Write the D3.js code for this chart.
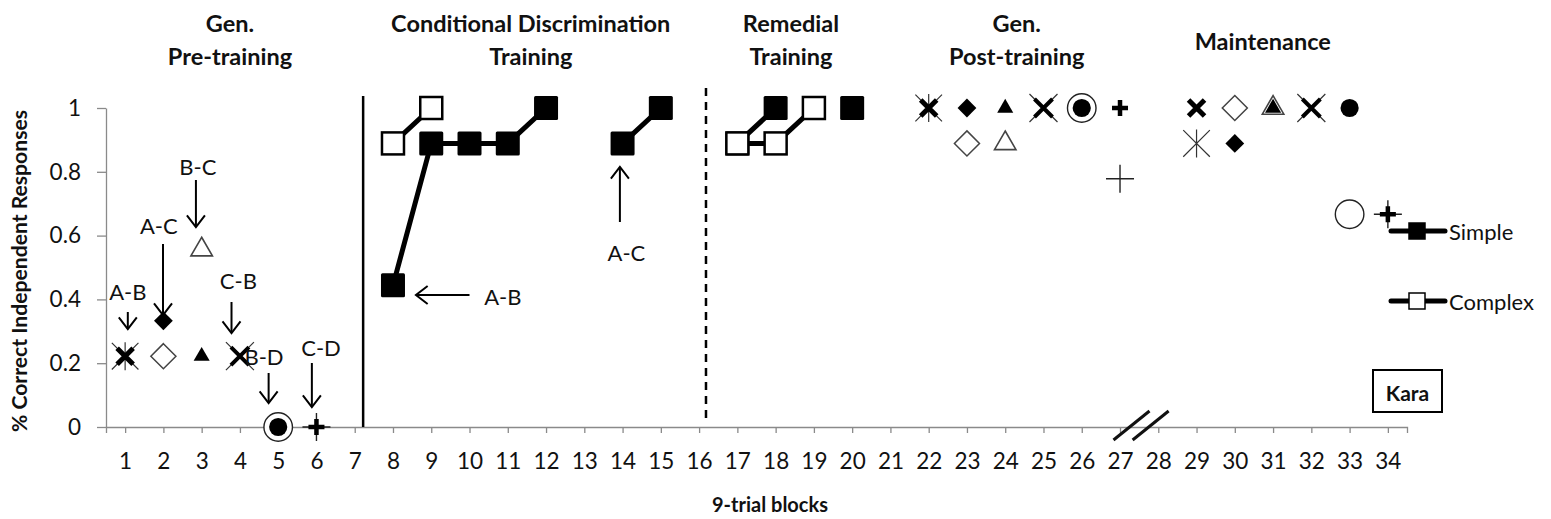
<!DOCTYPE html>
<html>
<head>
<meta charset="utf-8">
<script src="https://cdn.jsdelivr.net/npm/d3@7"></script>
<style>
  body { margin: 0; background: #fff; }
  svg text { font-family: Lato, "Open Sans", sans-serif; fill: #111; }
</style>
</head>
<body>
<svg id="chart" width="1551" height="519"></svg>
<script>
// blocks on the x axis
var blocks = d3.range(1, 35)
var yTicks = [0, 0.2, 0.4, 0.6, 0.8, 1]

// training series (null = gap)
var simpleBlocks  = [8, 9, 10, 11, 12, 13, 14, 15, 16, 17, 18, 19, 20]
var simpleValues  = [0.444, 0.889, 0.889, 0.889, 1, null, 0.889, 1, null, 0.889, 1, null, 1]
var complexBlocks = [8, 9, 10, 16, 17, 18, 19]
var complexValues = [0.889, 1, null, null, 0.889, 0.889, 1]

// generalization probes, one marker pair per relation
var relations   = ["A-B", "A-C", "B-C", "C-B", "B-D", "C-D"]
var preBlocks   = [1, 2, 3, 4, 5, 6]
var postBlocks  = [22, 23, 24, 25, 26, 27]
var maintBlocks = [29, 30, 31, 32, 33, 34]
var preA   = [0.222, 0.333, 0.222, 0.222, 0, 0]
var preB   = [0.222, 0.222, 0.556, 0.222, 0, 0]
var postA  = [1, 1, 1, 1, 1, 1]
var postB  = [1, 0.889, 0.889, 1, 1, 0.778]
var maintA = [1, 0.889, 1, 1, 1, 0.667]
var maintB = [0.889, 1, 1, 1, 0.667, 0.667]

var phases = [
  {lines: ["Gen.", "Pre-training"], at: 3.74},
  {lines: ["Conditional Discrimination", "Training"], at: 11.6},
  {lines: ["Remedial", "Training"], at: 18.4},
  {lines: ["Gen.", "Post-training"], at: 24.3},
  {lines: ["Maintenance"], at: 30.73}
]

var svg = d3.select("#chart")

var x = d3.scaleLinear().domain([0.5, 34.5]).range([106, 1407])
var y = d3.scaleLinear().domain([0, 1]).range([427, 108])

// axes
var xAxis = d3.axisBottom(x).tickValues(blocks).tickSize(6).tickSizeOuter(6)
  .tickPadding(20).tickFormat(d3.format("d"))
var yAxis = d3.axisLeft(y).tickValues(yTicks).tickSize(9).tickSizeOuter(0)
  .tickPadding(16).tickFormat(function(d){ return d === 0 || d === 1 ? d : d3.format(".1f")(d) })

var gx = svg.append("g").attr("transform", "translate(0," + y(0) + ")").call(xAxis)
var gy = svg.append("g").attr("transform", "translate(" + x(0.5) + ",0)").call(yAxis)
;[gx, gy].forEach(function(g){
  g.selectAll("path, line").attr("stroke", "#8a8a8a").attr("stroke-width", 1.3)
  g.selectAll("text").style("font-size", "22.5px").attr("fill", "#111")
})

// axis titles
svg.append("text").attr("x", 770).attr("y", 512).attr("text-anchor", "middle")
  .style("font-size", "20px").style("font-weight", "bold").text("9-trial blocks")
svg.append("text").attr("transform", "translate(27,271) rotate(-90)").attr("text-anchor", "middle")
  .attr("textLength", 322).attr("lengthAdjust", "spacingAndGlyphs")
  .style("font-size", "20px").style("font-weight", "bold").text("% Correct Independent Responses")

// phase titles
phases.forEach(function(p){
  var t = svg.append("text").attr("text-anchor", "middle")
    .style("font-size", "23.5px").style("font-weight", "bold")
  var y0 = p.lines.length === 1 ? 50 : 32
  p.lines.forEach(function(l, i){
    t.append("tspan").attr("x", x(p.at)).attr("y", y0 + i * 33).text(l)
  })
})

// phase change lines
svg.append("line").attr("x1", x(7.22)).attr("x2", x(7.22)).attr("y1", 96).attr("y2", y(0))
  .attr("stroke", "#000").attr("stroke-width", 2.5)
svg.append("line").attr("x1", x(16.18)).attr("x2", x(16.18)).attr("y1", 88).attr("y2", 421)
  .attr("stroke", "#000").attr("stroke-width", 2.5).attr("stroke-dasharray", "8,6")

// axis break
;[27.3, 27.8].forEach(function(b){
  svg.append("line").attr("x1", x(b) - 18).attr("y1", y(0) + 13)
    .attr("x2", x(b) + 18).attr("y2", y(0) - 16)
    .attr("stroke", "#111").attr("stroke-width", 3)
})

// training lines
var line = d3.line()
  .defined(function(d){ return d.v !== null })
  .x(function(d){ return x(d.b) }).y(function(d){ return y(d.v) })

var simple = simpleBlocks.map(function(b, i){ return {b: b, v: simpleValues[i]} })
var complex = complexBlocks.map(function(b, i){ return {b: b, v: complexValues[i]} })

svg.append("path").datum(simple).attr("d", line).attr("fill", "none")
  .attr("stroke", "#000").attr("stroke-width", 5)
svg.append("g").selectAll("rect").data(simple.filter(function(d){ return d.v !== null }))
  .join("rect").attr("x", function(d){ return x(d.b) - 12 }).attr("y", function(d){ return y(d.v) - 12 })
  .attr("width", 24).attr("height", 24).attr("rx", 1.5).attr("fill", "#000")

svg.append("path").datum(complex).attr("d", line).attr("fill", "none")
  .attr("stroke", "#000").attr("stroke-width", 5)
svg.append("g").selectAll("rect").data(complex.filter(function(d){ return d.v !== null }))
  .join("rect").attr("x", function(d){ return x(d.b) - 11 }).attr("y", function(d){ return y(d.v) - 11 })
  .attr("width", 22).attr("height", 22).attr("fill", "#fff").attr("stroke", "#000").attr("stroke-width", 2.5)

// probe markers
function xPath(h){ return "M" + (-h) + "," + (-h) + "L" + h + "," + h + "M" + h + "," + (-h) + "L" + (-h) + "," + h }
function vPath(h){ return "M0," + (-h) + "L0," + h }
function starPath(h){ return xPath(h * 0.95) + vPath(h) }
function plusPath(h){ return "M" + (-h) + ",0L" + h + ",0" + vPath(h) }

var markB = {
  "A-B": {d: starPath(14), fill: "none", stroke: "#333", sw: 1.2},
  "A-C": {d: d3.symbol(d3.symbolDiamond2, 400)(), fill: "#fff", stroke: "#444", sw: 1.5},
  "B-C": {d: d3.symbol(d3.symbolTriangle2, 330)(), fill: "#fff", stroke: "#444", sw: 1.6},
  "C-B": {d: xPath(14), fill: "none", stroke: "#333", sw: 1.2},
  "B-D": {d: d3.symbol(d3.symbolCircle, 640)(), fill: "#fff", stroke: "#222", sw: 1.4},
  "C-D": {d: plusPath(14), fill: "none", stroke: "#222", sw: 1.4}
}
var markA = {
  "A-B": {d: xPath(8), fill: "none", stroke: "#000", sw: 5},
  "A-C": {d: d3.symbol(d3.symbolDiamond2, 225)(), fill: "#000", stroke: "none", sw: 0},
  "B-C": {d: d3.symbol(d3.symbolTriangle2, 185)(), fill: "#000", stroke: "none", sw: 0},
  "C-B": {d: xPath(9), fill: "none", stroke: "#000", sw: 4},
  "B-D": {d: d3.symbol(d3.symbolCircle, 260)(), fill: "#000", stroke: "none", sw: 0},
  "C-D": {d: plusPath(8), fill: "none", stroke: "#000", sw: 4.5}
}

function probes(bl, vals, marks){
  return bl.map(function(b, i){ return {b: b, v: vals[i], m: marks[relations[i]]} })
}
var probeB = probes(preBlocks, preB, markB).concat(probes(postBlocks, postB, markB), probes(maintBlocks, maintB, markB))
var probeA = probes(preBlocks, preA, markA).concat(probes(postBlocks, postA, markA), probes(maintBlocks, maintA, markA))

;[probeB, probeA].forEach(function(set){
  svg.append("g").selectAll("path").data(set).join("path")
    .attr("transform", function(d){ return "translate(" + x(d.b) + "," + y(d.v) + ")" })
    .attr("d", function(d){ return d.m.d })
    .attr("fill", function(d){ return d.m.fill })
    .attr("stroke", function(d){ return d.m.stroke })
    .attr("stroke-width", function(d){ return d.m.sw })
})

// annotations
var arrowHead = function(g, x0, y0, dir){
  var s = 9
  var p = dir === "down" ? [[x0 - s, y0 - s * 1.3], [x0, y0], [x0 + s, y0 - s * 1.3]]
        : dir === "up" ? [[x0 - s, y0 + s * 1.3], [x0, y0], [x0 + s, y0 + s * 1.3]]
        : [[x0 + s * 1.3, y0 - s], [x0, y0], [x0 + s * 1.3, y0 + s]]
  g.append("path").attr("d", d3.line()(p)).attr("fill", "none").attr("stroke", "#000").attr("stroke-width", 2)
}
var ann = svg.append("g")
function label(t, lx, ly){
  ann.append("text").attr("x", lx).attr("y", ly).attr("text-anchor", "middle")
    .attr("dominant-baseline", "central").style("font-size", "22px").text(t)
}
function downArrow(b, ytop, ybot, t, lx, ly){
  ann.append("line").attr("x1", x(b)).attr("x2", x(b)).attr("y1", ytop).attr("y2", ybot)
    .attr("stroke", "#000").attr("stroke-width", 2)
  arrowHead(ann, x(b), ybot, "down")
  label(t, lx, ly)
}
downArrow(1.07, 312, 329, "A-B", x(1.07), 291)
downArrow(1.99, 244, 315, "A-C", x(1.88), 225)
downArrow(2.85, 180, 227, "B-C", x(2.9), 166)
downArrow(3.78, 302, 333, "C-B", x(3.96), 280)
downArrow(4.75, 373, 403, "B-D", x(4.63), 356)
downArrow(5.88, 363, 407, "C-D", x(6.12), 347)

ann.append("line").attr("x1", x(8.6)).attr("x2", x(10.0)).attr("y1", 295).attr("y2", 295)
  .attr("stroke", "#000").attr("stroke-width", 2)
arrowHead(ann, x(8.6), 295, "left")
label("A-B", x(10.87), 296)

ann.append("line").attr("x1", x(13.93)).attr("x2", x(13.93)).attr("y1", 222).attr("y2", 167)
  .attr("stroke", "#000").attr("stroke-width", 2)
arrowHead(ann, x(13.93), 167, "up")
label("A-C", x(14.1), 252)

// legend
var legend = svg.append("g")
;[{t: "Simple", fill: "#000", y: 231}, {t: "Complex", fill: "#fff", y: 301}].forEach(function(l){
  legend.append("line").attr("x1", 1391).attr("x2", 1445).attr("y1", l.y).attr("y2", l.y)
    .attr("stroke", "#000").attr("stroke-width", 5).attr("stroke-linecap", "round")
  legend.append("rect").attr("x", 1409).attr("y", l.y - 8).attr("width", 16).attr("height", 16)
    .attr("fill", l.fill).attr("stroke", "#000").attr("stroke-width", 1.5)
  legend.append("text").attr("x", 1449).attr("y", l.y).attr("dominant-baseline", "central")
    .style("font-size", "22px").text(l.t)
})

// participant box
svg.append("rect").attr("x", 1373).attr("y", 370).attr("width", 69).attr("height", 42)
  .attr("fill", "#fff").attr("stroke", "#000").attr("stroke-width", 2)
svg.append("text").attr("x", 1407.5).attr("y", 392).attr("text-anchor", "middle")
  .attr("dominant-baseline", "central").style("font-size", "21px").style("font-weight", "bold").text("Kara")
</script>
</body>
</html>
